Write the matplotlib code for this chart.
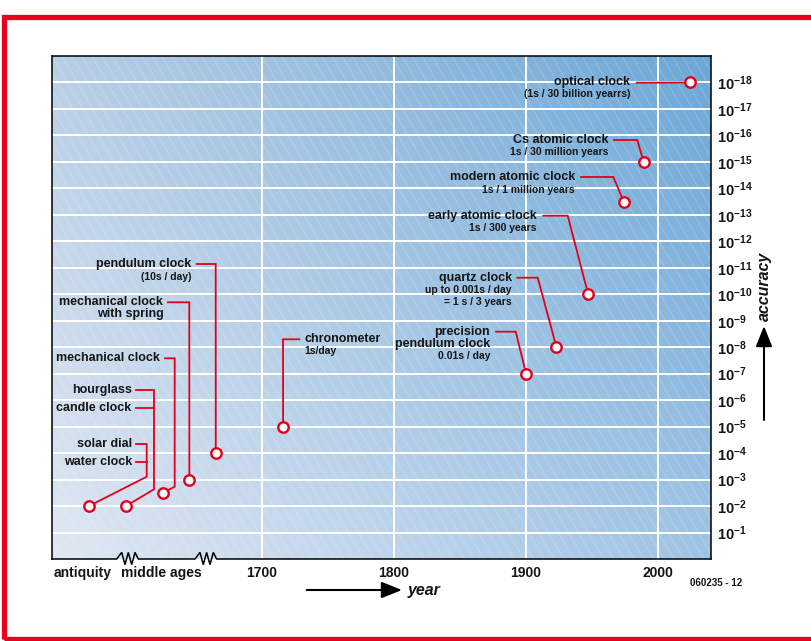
import numpy as np
import matplotlib
matplotlib.use("Agg")
import matplotlib.pyplot as plt
from matplotlib.collections import LineCollection
from matplotlib.patches import Rectangle

plt.rcParams['font.family'] = ['Liberation Sans', 'DejaVu Sans']
plt.rcParams['font.weight'] = 'bold'
plt.rcParams['mathtext.fontset'] = 'custom'
plt.rcParams['mathtext.rm'] = 'Liberation Sans:bold'
plt.rcParams['mathtext.it'] = 'Liberation Sans:italic:bold'
plt.rcParams['mathtext.bf'] = 'Liberation Sans:bold'
plt.rcParams['mathtext.default'] = 'rm'

# ---------------- data ----------------
clock_names = ["solar dial / water clock", "hourglass / candle clock", "mechanical clock",
               "mechanical clock with spring", "pendulum clock", "chronometer",
               "precision pendulum clock", "quartz clock", "early atomic clock",
               "modern atomic clock", "Cs atomic clock", "optical clock"]
timeline_pos = [1569, 1597, 1625, 1645, 1665, 1716, 1900, 1923, 1947, 1974, 1989, 2024]
accuracy_exp = [2, 2, 2.5, 3, 4, 5, 7, 8, 10, 13.5, 15, 18]   # accuracy = 10^-exp

main_labels = [["solar dial", "water clock"], ["hourglass", "candle clock"], ["mechanical clock"],
               ["mechanical clock", "with spring"], ["pendulum clock"], ["chronometer"],
               ["precision", "pendulum clock"], ["quartz clock"], ["early atomic clock"],
               ["modern atomic clock"], ["Cs atomic clock"], ["optical clock"]]
note_labels = [[], [], [], [], ["(10s / day)"], ["1s/day"], ["0.01s / day"],
               ["up to 0.001s / day", "= 1 s / 3 years"], ["1s / 300 years"],
               ["1s / 1 million years"], ["1s / 30 million years"], ["(1s / 30 billion yearrs)"]]

century_ticks = [1700, 1800, 1900, 2000]
era_labels = ["antiquity", "middle ages"]
exp_ticks = list(range(1, 19))

# ---------------- layout ----------------
W, H = 811, 641
PX_L, PX_R, PX_T, PX_B = 52, 711, 56, 559
XLIM = (1541, 2040)
YLIM = (0, 19)
era_label_pos = [1564, 1624]


def P(px, py):
    x = XLIM[0] + (px - PX_L) * (XLIM[1] - XLIM[0]) / (PX_R - PX_L)
    y = YLIM[1] - (py - PX_T) * (YLIM[1] - YLIM[0]) / (PX_B - PX_T)
    return x, y


# label layout: text x (px), alignment, line y's (px), leader path (px), extra branches
label_layout = [
    dict(tx=132.3, ha='right', ys=[444, 461.7],
         path=[(146.7, 476.7), (146.7, 444), (136, 444)], br=[[(146.7, 461.7), (136, 461.7)]]),
    dict(tx=131.7, ha='right', ys=[390, 407.7],
         path=[(154, 489.3), (154, 390), (136, 390)], br=[[(154, 407.7), (136, 407.7)]]),
    dict(tx=160, ha='right', ys=[358.3],
         path=[(174.7, 486.7), (174.7, 358.3), (165, 358.3)], br=[]),
    dict(tx=163.3, ha='right', ys=[302.3, 313.8],
         path=[(189.3, 302.3), (168, 302.3)], br=[]),
    dict(tx=191.7, ha='right', ys=[264, 276.5],
         path=[(215.7, 264), (196.7, 264)], br=[]),
    dict(tx=304.3, ha='left', ys=[339, 351],
         path=[(283, 339.3), (299.3, 339.3)], br=[]),
    dict(tx=490, ha='right', ys=[331.7, 343.5, 356],
         path=[(515.7, 331.7), (496, 331.7)], br=[]),
    dict(tx=511.7, ha='right', ys=[277.7, 290, 302.3],
         path=[(537.7, 277.7), (517.3, 277.7)], br=[]),
    dict(tx=536.7, ha='right', ys=[215.7, 228],
         path=[(567.7, 215.7), (543.3, 215.7)], br=[]),
    dict(tx=575, ha='right', ys=[177, 190],
         path=[(613.3, 177), (581, 177)], br=[]),
    dict(tx=608.3, ha='right', ys=[140, 152],
         path=[(637.3, 140), (614, 140)], br=[]),
    dict(tx=630, ha='right', ys=[82, 94.3],
         path=[(636.7, 82.7)], br=[]),
]

RED = '#e2001a'
TXT = '#151515'

fig = plt.figure(figsize=(W / 100, H / 100), dpi=100)
ax = fig.add_axes([PX_L / W, 1 - PX_B / H, (PX_R - PX_L) / W, (PX_B - PX_T) / H])
ax.set_xlim(*XLIM)
ax.set_ylim(*YLIM)

# background gradient
TL = np.array([184, 207, 230]) / 255
TR = np.array([108, 167, 214]) / 255
BL = np.array([224, 231, 243]) / 255
BR = np.array([160, 196, 229]) / 255
u = np.linspace(0, 1, 300)[None, :, None]
v = np.linspace(0, 1, 200)[:, None, None]
grad = (1 - u) * (1 - v) * TL + u * (1 - v) * TR + (1 - u) * v * BL + u * v * BR
ax.imshow(grad, extent=(0, 1, 0, 1), transform=ax.transAxes, aspect='auto',
          origin='upper', zorder=0, interpolation='bilinear')

# diagonal hatch
aw, ah = PX_R - PX_L, PX_B - PX_T
slope = 0.58
segs = []
for x0 in np.arange(-320, aw + 10, 10):
    segs.append([(x0 / aw, 1), ((x0 + ah * slope) / aw, 0)])
hatch = LineCollection(segs, colors='white', linewidths=0.5, alpha=0.25,
                       transform=ax.transAxes, zorder=1)
ax.add_collection(hatch)

# grid
for n in exp_ticks:
    ax.axhline(n, color='white', lw=1.4, zorder=2)
for c in century_ticks:
    ax.axvline(c, color='white', lw=1.4, zorder=2)

# leaders, markers, labels
for i in range(len(clock_names)):
    lay = label_layout[i]
    mx, my = timeline_pos[i], accuracy_exp[i]
    pts = [(mx, my)] + [P(*p) for p in lay['path']]
    xs, ys = zip(*pts)
    ax.plot(xs, ys, color=RED, lw=1.3, zorder=4, solid_joinstyle='miter')
    for b in lay['br']:
        bx, by = zip(*[P(*p) for p in b])
        ax.plot(bx, by, color=RED, lw=1.3, zorder=4)
    lines = main_labels[i] + note_labels[i]
    for j, txt in enumerate(lines):
        is_main = j < len(main_labels[i])
        tx, ty = P(lay['tx'], lay['ys'][j])
        ax.text(tx, ty, txt, ha=lay['ha'], va='center', color=TXT,
                fontsize=9 if is_main else 7.5, fontweight='bold', zorder=5)

ax.plot(timeline_pos, accuracy_exp, linestyle='none', marker='o', ms=7.5,
        mfc='white', mec=RED, mew=1.7, zorder=6, clip_on=False)

# axes ticks
ax.set_xticks(era_label_pos + century_ticks)
ax.set_xticklabels(era_labels + [str(c) for c in century_ticks])
ax.tick_params(axis='x', length=0, pad=5, labelsize=10, labelcolor=TXT)
ax.yaxis.tick_right()
ax.set_yticks(exp_ticks)
ax.set_yticklabels([f'$10^{{-{n}}}$' for n in exp_ticks])
ax.tick_params(axis='y', length=0, pad=4.5, labelsize=10.5, labelcolor=TXT)
for lab in ax.get_xticklabels() + ax.get_yticklabels():
    lab.set_fontweight('bold')

for s in ['left', 'right', 'top']:
    ax.spines[s].set_linewidth(1.1)
    ax.spines[s].set_color('black')
ax.spines['bottom'].set_visible(False)

# bottom axis line with zigzag breaks
zz_dx = [0, 5, 8.3, 11.6, 15, 18.3, 21.6]
zz_dy = [0, -6.6, 5.7, -6.6, 5.7, -6.6, 0]
bx_px = [PX_L, 116.7]
by_px = [PX_B, PX_B]
for k, start in enumerate([116.7, 195]):
    if k == 1:
        bx_px += [195]
        by_px += [PX_B]
    bx_px += [start + d for d in zz_dx]
    by_px += [PX_B + d for d in zz_dy]
bx_px += [PX_R]
by_px += [PX_B]
bxy = [P(a, b) for a, b in zip(bx_px, by_px)]
bx, by = zip(*bxy)
ax.plot(bx, by, color='black', lw=1.1, clip_on=False, zorder=7, solid_joinstyle='miter')

# axis titles with arrows
fig.text(408 / W, 1 - 590 / H, 'year', ha='left', va='center', fontsize=11.5,
         fontweight='bold', fontstyle='italic', color=TXT)
fig.text(764 / W, 1 - 321 / H, 'accuracy', ha='center', va='bottom', rotation=90,
         fontsize=11.5, fontweight='bold', fontstyle='italic', color=TXT)
arrow_kw = dict(arrowstyle='-|>,head_length=1.25,head_width=0.5', lw=1.5, color='black',
                shrinkA=0, shrinkB=0, mutation_scale=10)
fig.add_artist(matplotlib.patches.FancyArrowPatch((306.7 / W, 1 - 590 / H), (402 / W, 1 - 590 / H),
                                                  transform=fig.transFigure, **arrow_kw))
fig.add_artist(matplotlib.patches.FancyArrowPatch((764 / W, 1 - 420 / H), (764 / W, 1 - 326 / H),
                                                  transform=fig.transFigure, **arrow_kw))

fig.text(715.7 / W, 1 - 583 / H, '060235 - 12', ha='center', va='center', fontsize=7,
         fontweight='bold', color=TXT)

# red frame
fig.add_artist(Rectangle((4 / W, 2.5 / H), 1.2, (622) / H, transform=fig.transFigure,
                         fill=False, edgecolor='#e8001c', lw=3.8))

fig.savefig('out.png', dpi=100)
